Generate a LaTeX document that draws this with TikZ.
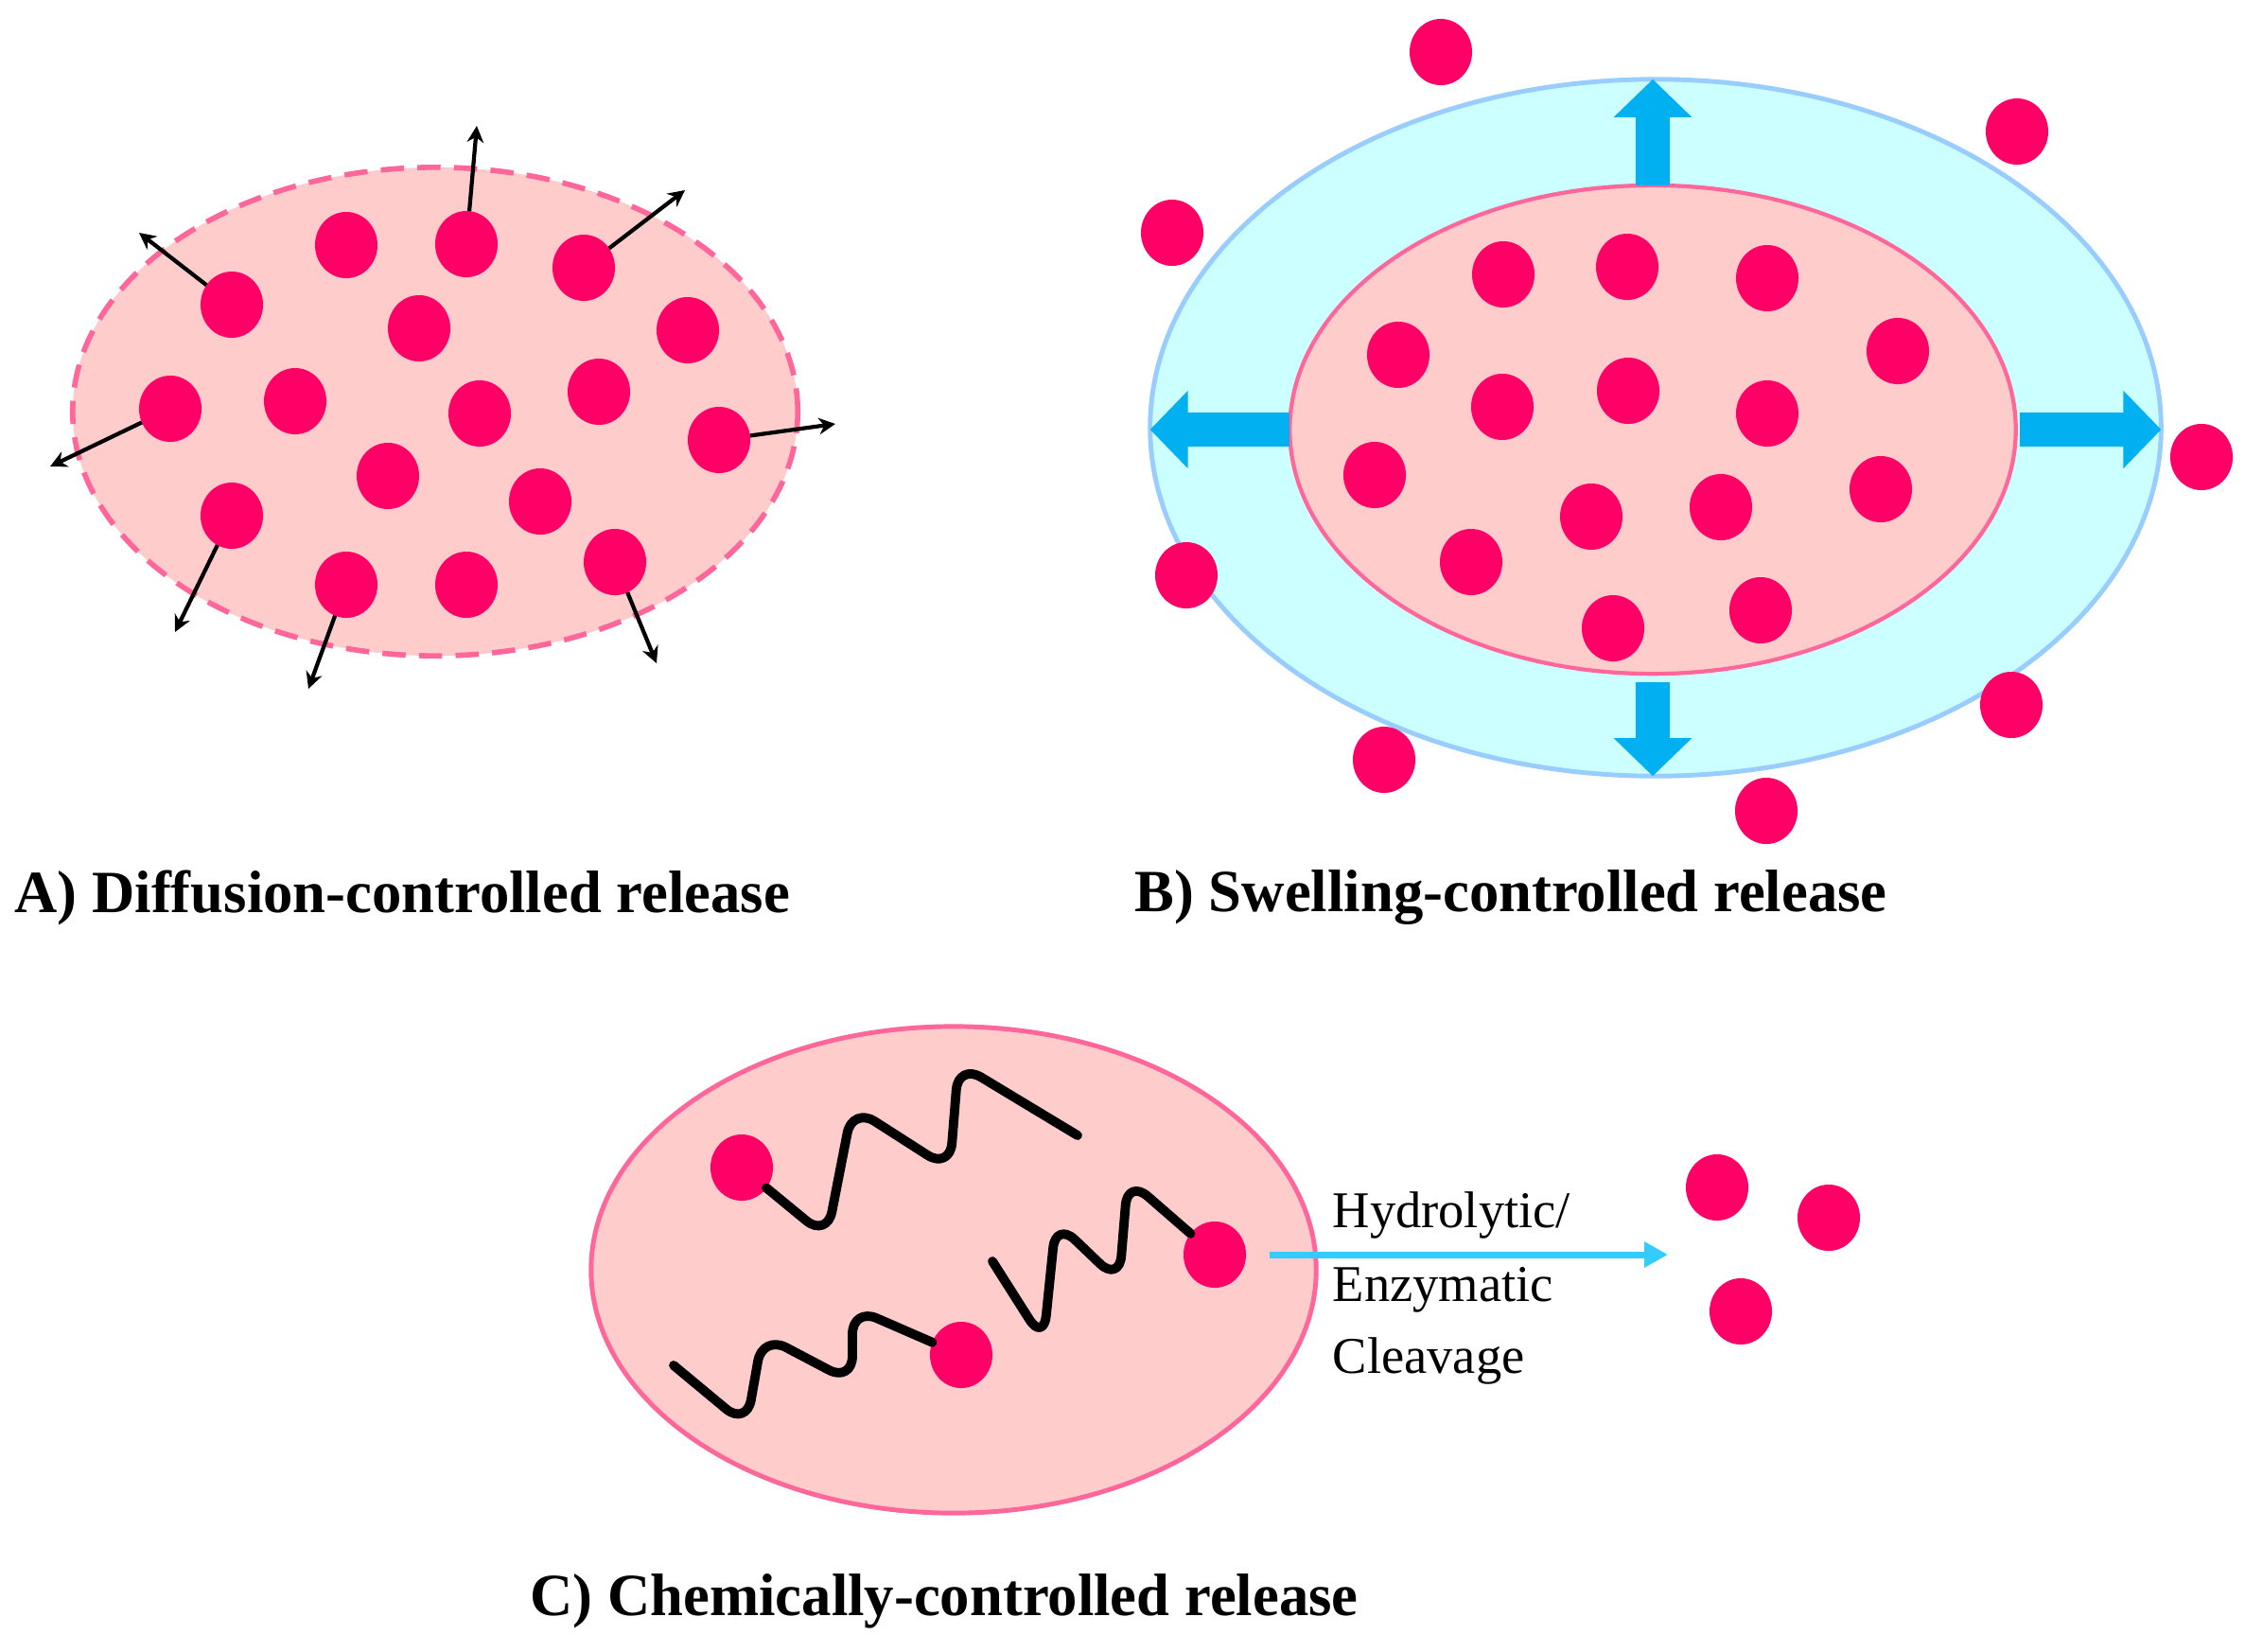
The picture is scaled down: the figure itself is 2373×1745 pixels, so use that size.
\documentclass[tikz,border=0pt]{standalone}
\usepackage{fontspec}
\setmainfont{Liberation Serif}
\newfontfamily\titlefont[FakeStretch=0.99]{Liberation Serif}
\usetikzlibrary{shapes.geometric,arrows.meta}
\definecolor{dotred}{HTML}{FF0066}
\definecolor{pinkfill}{HTML}{FFCCCC}
\definecolor{pinkline}{HTML}{FF6699}
\definecolor{cyanfill}{HTML}{CCFFFF}
\definecolor{blueline}{HTML}{99CCFF}
\definecolor{arrowblue}{HTML}{00B0F0}
\definecolor{lightarrow}{HTML}{33CCFF}
\begin{document}
\begin{tikzpicture}[x=0.01cm,y=-0.01cm,
  dot/.style={ellipse,fill=dotred,minimum width=0.66cm,minimum height=0.70cm,inner sep=0pt,outer sep=0pt},
  capsule/.style={ellipse,inner sep=0pt,outer sep=0pt,minimum width=7.66cm,minimum height=5.16cm,fill=pinkfill},
  outflow/.style={line width=1.2pt,black,-{Stealth[length=5pt,width=5pt]}},
  swellarrow/.style={line width=0.36cm,arrowblue,-{Triangle[length=0.4cm,width=0.8cm]}},
  chain/.style={line width=2.8pt,black,line cap=round,line join=round,rounded corners=0.28cm},
  cleave/.style={line width=2pt,lightarrow,-{Triangle[length=0.25cm,width=0.26cm]}},
  title/.style={inner sep=0pt,anchor=base west,font=\titlefont\fontsize{18}{20}\selectfont\bfseries},
  smalltext/.style={inner sep=0pt,anchor=base west,font=\fontsize{15.5}{18}\selectfont}
]
\useasboundingbox (0,0) rectangle (2373,1745);

% ---------------- Panel A ----------------
\node[capsule,draw=pinkline,line width=1.6pt,dash pattern=on 7pt off 4pt] (ea) at (460,435) {};
\node[dot] (a1) at (245,322) {};
\node[dot] (a2) at (366,259) {};
\node[dot] (a3) at (493,258) {};
\node[dot] (a4) at (617,283) {};
\node[dot] (a5) at (443,347) {};
\node[dot] (a6) at (727,349) {};
\node[dot] (a7) at (180,432) {};
\node[dot] (a8) at (312,424) {};
\node[dot] (a9) at (507,437) {};
\node[dot] (a10) at (633,414) {};
\node[dot] (a11) at (760,465) {};
\node[dot] (a12) at (410,503) {};
\node[dot] (a13) at (571,530) {};
\node[dot] (a14) at (245,545) {};
\node[dot] (a15) at (366,618) {};
\node[dot] (a16) at (493,618) {};
\node[dot] (a17) at (650,594) {};
\coordinate (e1) at (147,246);
\coordinate (e3) at (504,133);
\coordinate (e4) at (724,201);
\coordinate (e7) at (53,493);
\coordinate (e11) at (883,448);
\coordinate (e14) at (185,668);
\coordinate (e15) at (326,728);
\coordinate (e17) at (694,701);
\draw[outflow] (a1) -- (e1);
\draw[outflow] (a3) -- (e3);
\draw[outflow] (a4) -- (e4);
\draw[outflow] (a7) -- (e7);
\draw[outflow] (a11) -- (e11);
\draw[outflow] (a14) -- (e14);
\draw[outflow] (a15) -- (e15);
\draw[outflow] (a17) -- (e17);
\node[title] (ta) at (15,964) {A) Diffusion-controlled release};

% ---------------- Panel B ----------------
\node[ellipse,inner sep=0pt,outer sep=0pt,minimum width=10.68cm,minimum height=7.36cm,
      fill=cyanfill,draw=blueline,line width=1.4pt] (ob) at (1750,452) {};
\node[capsule,minimum width=7.67cm,minimum height=5.16cm,draw=pinkline,line width=1.2pt] (ib) at (1747,454) {};
\draw[swellarrow] (ib.north) -- (ib.north |- ob.north);
\draw[swellarrow,shorten <=0.09cm] (ib.south) -- (ib.south |- ob.south);
\draw[swellarrow] (ib.west) -- (ib.west -| ob.west);
\draw[swellarrow,shorten <=0.04cm] (ib.east) -- (ib.east -| ob.east);
% inner dots
\node[dot] (b1) at (1589,290) {};
\node[dot] (b2) at (1720,282) {};
\node[dot] (b3) at (1868,294) {};
\node[dot] (b4) at (1478,375) {};
\node[dot] (b5) at (2006,371) {};
\node[dot] (b6) at (1588,430) {};
\node[dot] (b7) at (1721,413) {};
\node[dot] (b8) at (1868,437) {};
\node[dot] (b9) at (1453,502) {};
\node[dot] (b10) at (1988,517) {};
\node[dot] (b11) at (1682,546) {};
\node[dot] (b12) at (1819,536) {};
\node[dot] (b13) at (1555,594) {};
\node[dot] (b14) at (1705,664) {};
\node[dot] (b15) at (1861,645) {};
% released dots
\node[dot] (r1) at (1523,55) {};
\node[dot] (r2) at (2132,139) {};
\node[dot] (r3) at (1239,246) {};
\node[dot] (r4) at (2327,483) {};
\node[dot] (r5) at (1254,608) {};
\node[dot] (r6) at (2126,745) {};
\node[dot] (r7) at (1463,803) {};
\node[dot] (r8) at (1867,857) {};
\node[title] (tb) at (1199,963) {B) Swelling-controlled release};

% ---------------- Panel C ----------------
\node[capsule,minimum width=7.66cm,minimum height=5.14cm,draw=pinkline,line width=1.4pt] (ec) at (1008,1342) {};
\node[dot] (c1) at (784,1234) {};
\node[dot] (c2) at (1284,1326) {};
\node[dot] (c3) at (1016,1432) {};
\draw[chain] (c1) -- (874,1308) -- (901,1170) -- (1004,1236) -- (1013,1124) -- (1139,1200);
\draw[chain] (c2) -- (1192,1246) -- (1183,1355) -- (1116,1291) -- (1103,1418) -- (1049,1333);
\draw[chain] (c3) -- (901,1382) -- (901,1461) -- (806,1411) -- (789,1507) -- (712,1443);
\coordinate (cend) at (1763,1326);
\draw[cleave,shorten <=0.25cm] (c2) -- (cend);
\node[smalltext] (l1) at (1408,1297) {Hydrolytic/};
\node[smalltext] (l2) at (1408,1375) {Enzymatic};
\node[smalltext] (l3) at (1408,1451) {Cleavage};
\node[dot] (f1) at (1815,1255) {};
\node[dot] (f2) at (1933,1287) {};
\node[dot] (f3) at (1840,1386) {};
\node[title] (tc) at (560,1707) {C) Chemically-controlled release};
\end{tikzpicture}
\end{document}
